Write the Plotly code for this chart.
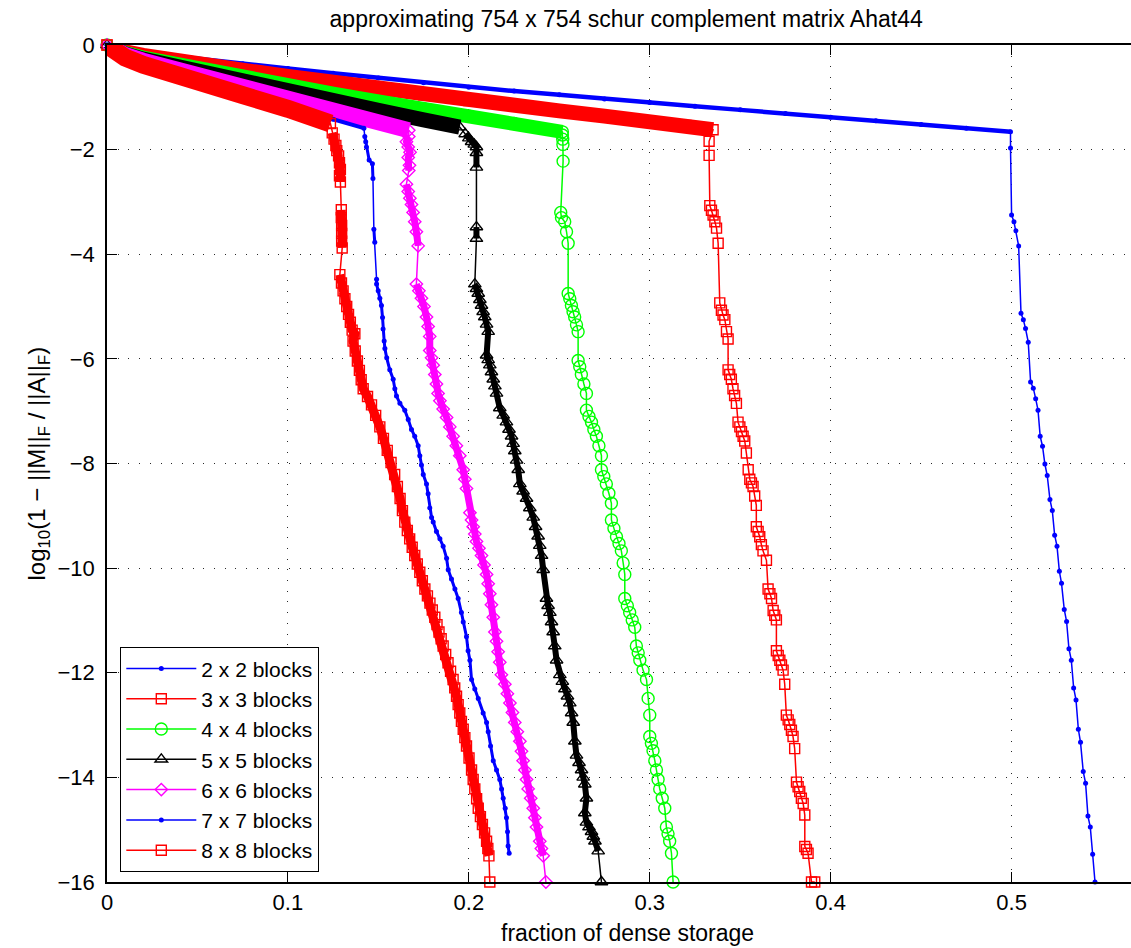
import plotly.graph_objects as go

TITLE = "approximating 754 x 754 schur complement matrix Ahat44"
X_LABEL = "fraction of dense storage"
Y_LABEL = "log<sub>10</sub>(1 − ||M||<sub>F</sub> / ||A||<sub>F</sub>)"
X_TICKS = [0, 0.1, 0.2, 0.3, 0.4, 0.5]
X_TICK_LABELS = ["0", "0.1", "0.2", "0.3", "0.4", "0.5"]
Y_TICKS = [0, -2, -4, -6, -8, -10, -12, -14, -16]
Y_TICK_LABELS = ["0", "−2", "−4", "−6", "−8", "−10", "−12", "−14", "−16"]
SERIES_NAMES = ["2 x 2 blocks", "3 x 3 blocks", "4 x 4 blocks", "5 x 5 blocks",
                "6 x 6 blocks", "7 x 7 blocks", "8 x 8 blocks"]
GAP = (None, None)  # marks a thin connecting jump between dense clusters

# ---- 2 x 2 blocks ----
S2_TOP = [(0, 0), (0.005, -0.06), (0.01, -0.1), (0.02, -0.15), (0.03, -0.19), (0.05, -0.27),
          (0.075, -0.36), (0.1, -0.45), (0.125, -0.54), (0.15, -0.63), (0.175, -0.72), (0.2, -0.81),
          (0.225, -0.88), (0.25, -0.95), (0.275, -1.03), (0.3, -1.1), (0.325, -1.17), (0.35, -1.24),
          (0.375, -1.31), (0.4, -1.38), (0.425, -1.45), (0.45, -1.52), (0.475, -1.59), (0.4994, -1.66)]
S2_DROP = [(0.4994, -1.97), (0.5, -3.25), (0.5013, -3.38), (0.5024, -3.55), (0.5039, -3.84),
           (0.5052, -5.13), (0.5065, -5.25), (0.5077, -5.42), (0.5092, -5.68), (0.5105, -6.44),
           (0.512, -6.56), (0.5133, -6.76), (0.5146, -6.98), (0.5158, -7.48), (0.5171, -7.67),
           (0.5184, -8.01), (0.5197, -8.23), (0.5212, -8.69), (0.5225, -8.9), (0.5238, -9.37),
           (0.5251, -9.58), (0.5264, -10.06), (0.5276, -10.29), (0.5291, -10.79), (0.5304, -11.02),
           (0.5317, -11.54), (0.533, -11.76), (0.5343, -12.29), (0.5356, -12.52), (0.5369, -13.08),
           (0.5381, -13.33), (0.5396, -13.89), (0.5409, -14.11), (0.5422, -14.74), (0.5435, -14.95),
           (0.5448, -15.47), (0.5461, -16.0)]

# ---- 3 x 3 blocks ----
S3_TOP = [(0, 0), (0.005, -0.08), (0.01, -0.13), (0.02, -0.2), (0.03, -0.26), (0.05, -0.36),
          (0.075, -0.48), (0.1, -0.6), (0.125, -0.72), (0.15, -0.84), (0.175, -0.95), (0.2, -1.06),
          (0.225, -1.16), (0.25, -1.26), (0.275, -1.36), (0.3, -1.45), (0.32, -1.54), (0.335, -1.62)]
S3_DROP = [(0.3328, -1.84), (0.3328, -2.11), (0.3332, -3.07), (0.3341, -3.16), (0.335, -3.25),
           (0.336, -3.38), (0.3369, -3.5), (0.3378, -3.79), (0.3387, -4.93), (0.3396, -5.07),
           (0.3405, -5.16), (0.3415, -5.25), (0.3424, -5.48), (0.3433, -5.62), (0.3433, -6.21),
           (0.3442, -6.3), (0.3451, -6.39), (0.346, -6.57), (0.3469, -6.7), (0.3479, -6.85),
           (0.3488, -7.21), (0.3498, -7.3), (0.3507, -7.39), (0.3516, -7.48), (0.3525, -7.57),
           (0.3534, -7.8), (0.3544, -8.12), (0.3553, -8.3), (0.3562, -8.37), (0.3571, -8.44),
           (0.358, -8.62), (0.3589, -8.8), (0.3589, -9.21), (0.3599, -9.3), (0.3608, -9.4),
           (0.3617, -9.55), (0.3626, -9.67), (0.3645, -9.85), (0.3654, -10.4), (0.3664, -10.49),
           (0.3673, -10.58), (0.3682, -10.81), (0.3691, -10.9), (0.37, -10.99), (0.37, -11.58),
           (0.371, -11.67), (0.3719, -11.76), (0.3728, -11.85), (0.3737, -11.95), (0.3746, -12.22),
           (0.3755, -12.81), (0.3765, -12.9), (0.3774, -12.99), (0.3783, -13.1), (0.3792, -13.22),
           (0.3801, -13.45), (0.3811, -14.09), (0.382, -14.18), (0.3829, -14.27), (0.3838, -14.4),
           (0.3848, -14.5), (0.3857, -14.72), (0.3857, -15.32), (0.3866, -15.38), (0.3875, -15.45),
           (0.3894, -16.0), (0.3912, -16.0)]

# ---- 4 x 4 blocks ----
S4_TOP = [(0, 0), (0.005, -0.09), (0.01, -0.15), (0.02, -0.24), (0.03, -0.31), (0.05, -0.44),
          (0.075, -0.61), (0.1, -0.78), (0.125, -0.93), (0.15, -1.08), (0.175, -1.22), (0.2, -1.36),
          (0.225, -1.5), (0.2517, -1.66)]
S4_DROP = [(0.2517, -1.72), (0.2519, -1.8), (0.252, -1.9), (0.2521, -2.22), (0.2508, -3.2),
           (0.2512, -3.3), (0.253, -3.38), (0.254, -3.57), (0.2549, -3.79), (0.2549, -4.75),
           (0.2558, -4.85), (0.2567, -4.98), (0.2576, -5.1), (0.2585, -5.2), (0.2595, -5.35),
           (0.2604, -5.48), (0.2604, -6.03), (0.2613, -6.15), (0.2622, -6.3), (0.2636, -6.48),
           (0.265, -6.66), (0.265, -6.98), (0.2664, -7.1), (0.2678, -7.21), (0.2691, -7.35),
           (0.2705, -7.48), (0.2719, -7.66), (0.2733, -7.85), (0.2733, -8.12), (0.2746, -8.25),
           (0.276, -8.39), (0.2774, -8.57), (0.2788, -8.76), (0.2788, -9.08), (0.2802, -9.24),
           (0.2816, -9.4), (0.283, -9.53), (0.2843, -9.67), (0.2853, -9.9), (0.2862, -10.12),
           (0.2862, -10.58), (0.2876, -10.72), (0.2889, -10.85), (0.2903, -10.99), (0.2917, -11.13),
           (0.2926, -11.49), (0.2936, -11.62), (0.2945, -11.76), (0.2963, -11.95), (0.2982, -12.13),
           (0.2991, -12.49), (0.3, -12.81), (0.3, -13.22), (0.3009, -13.35), (0.3018, -13.49),
           (0.3028, -13.68), (0.3037, -13.86), (0.3046, -14.04), (0.3055, -14.22), (0.3069, -14.4),
           (0.3083, -14.59), (0.3092, -14.95), (0.3101, -15.08), (0.311, -15.22), (0.312, -15.45),
           (0.3129, -16.0)]

# ---- 5 x 5 blocks ----
S5_TOP = [(0, 0), (0.005, -0.1), (0.01, -0.17), (0.02, -0.27), (0.03, -0.35), (0.05, -0.5),
          (0.075, -0.69), (0.1, -0.88), (0.125, -1.07), (0.15, -1.25), (0.175, -1.43), (0.195, -1.57)]
S5_DROP = [(0.198, -1.7), (0.2, -1.78), (0.2015, -1.85), (0.203, -1.9), (0.2042, -1.95),
           (0.2042, -2.06), (0.2042, -2.34), GAP, (0.2042, -3.48), (0.2042, -3.7), GAP,
           (0.2033, -4.57),
           (0.2042, -4.66), (0.2052, -4.75), (0.2061, -4.87), (0.207, -4.98), (0.2079, -5.1),
           (0.2088, -5.2), (0.2098, -5.34), (0.2107, -5.48), (0.2098, -5.93), (0.2107, -6.02),
           (0.2116, -6.12), (0.2125, -6.25), (0.2135, -6.39), (0.2144, -6.52), (0.2153, -6.66),
           (0.2171, -6.94), (0.219, -7.08), (0.2208, -7.21), (0.2222, -7.35), (0.2236, -7.48),
           (0.2245, -7.62), (0.2254, -7.76), (0.2264, -7.94), (0.2273, -8.12), (0.2282, -8.39),
           (0.23, -8.53), (0.2319, -8.67), (0.2337, -8.85), (0.2356, -9.03), (0.2369, -9.21),
           (0.2383, -9.39), (0.2392, -9.57), (0.2402, -9.76), (0.2411, -10.03), (0.2429, -10.58),
           (0.2438, -10.72), (0.2448, -10.85), (0.2457, -11.03), (0.2466, -11.22), (0.2475, -11.49),
           (0.2485, -11.76), (0.2503, -12.04), (0.2517, -12.17), (0.2531, -12.31), (0.2545, -12.45),
           (0.2558, -12.58), (0.2568, -12.77), (0.2577, -12.95), (0.2586, -13.31), (0.2595, -13.58),
           (0.2609, -13.72), (0.2623, -13.86), (0.2632, -14.0), (0.2641, -14.13), (0.265, -14.4),
           (0.2641, -14.68), (0.265, -14.86), (0.2664, -14.95), (0.2678, -15.04), (0.2688, -15.13),
           (0.2697, -15.22), (0.2715, -15.41), GAP, (0.2733, -16.0)]

# ---- 6 x 6 blocks ----
S6_TOP = [(0, 0), (0.005, -0.11), (0.01, -0.19), (0.02, -0.3), (0.03, -0.39), (0.05, -0.56),
          (0.075, -0.8), (0.1, -1.02), (0.125, -1.25), (0.15, -1.47), (0.1668, -1.63)]
S6_DROP = [(0.1668, -1.75), (0.1655, -1.85), (0.1665, -1.95), (0.1675, -2.05), (0.1665, -2.15),
           (0.1672, -2.3), (0.1668, -2.4), GAP, (0.1655, -2.66), (0.1665, -2.8), (0.1674, -2.93),
           (0.1683, -3.05), (0.1692, -3.2), (0.1701, -3.38), (0.171, -3.57), (0.172, -3.84), GAP,
           (0.171, -4.57), (0.1724, -4.7), (0.1738, -4.84), (0.1752, -5.0), (0.1766, -5.2),
           (0.1775, -5.38), (0.1784, -5.57), (0.1784, -5.84), (0.1794, -5.98), (0.1803, -6.12),
           (0.1812, -6.3), (0.1821, -6.48), (0.183, -6.66), (0.184, -6.8), (0.1858, -6.96),
           (0.1877, -7.12), (0.1895, -7.3), (0.1913, -7.48), (0.1931, -7.66), (0.195, -7.85),
           (0.1969, -8.12), (0.1978, -8.3), (0.1987, -8.48), (0.2006, -8.94), (0.2015, -9.08),
           (0.2024, -9.21), (0.2033, -9.35), (0.2042, -9.49), (0.2056, -9.62), (0.207, -9.76),
           (0.2084, -9.94), (0.2098, -10.12), (0.2107, -10.3), (0.2116, -10.49), (0.2125, -10.7),
           (0.2135, -10.94), (0.2144, -11.22), (0.2153, -11.4), (0.2162, -11.6), (0.2171, -11.8),
           (0.218, -12.04), (0.2199, -12.22), (0.2213, -12.4), (0.2227, -12.58), (0.2241, -12.76),
           (0.2254, -12.95), (0.2268, -13.13), (0.2282, -13.31), (0.2291, -13.5), (0.23, -13.68),
           (0.231, -13.86), (0.2319, -14.04), (0.2328, -14.22), (0.2342, -14.4), (0.2356, -14.59),
           (0.2365, -14.77), (0.2374, -14.95), (0.2392, -15.22), (0.2401, -15.36), (0.2411, -15.5),
           GAP, (0.2426, -16.0)]

# ---- 7 x 7 blocks ----
S7_TOP = [(0, 0), (0.005, -0.13), (0.01, -0.22), (0.02, -0.35), (0.03, -0.46), (0.05, -0.66),
          (0.075, -0.92), (0.1, -1.17), (0.125, -1.42), (0.142, -1.59)]
S7_DROP = [(0.1425, -1.75), (0.143, -1.85), (0.1434, -1.95), (0.1449, -2.2), (0.1467, -2.27),
           (0.147, -2.55), GAP, (0.1475, -3.52), (0.148, -3.77), GAP, (0.149, -4.48), (0.149, -4.57),
           (0.1499, -4.70), (0.1508, -4.84), (0.1517, -4.98), (0.1523, -5.21), (0.1526, -5.43),
           (0.1532, -5.66), (0.1536, -5.8), (0.1546, -5.98), (0.1563, -6.21), (0.1582, -6.39),
           (0.1591, -6.57), (0.16, -6.71), (0.1619, -6.85), (0.1646, -6.98), (0.1665, -7.16),
           (0.1683, -7.35), (0.1701, -7.48), (0.172, -7.66), (0.1729, -7.85), (0.1738, -8.03),
           (0.1748, -8.21), (0.1766, -8.39), (0.1775, -8.58), (0.1784, -8.85), (0.1794, -9.03),
           (0.1803, -9.12), (0.1821, -9.30), (0.184, -9.44), (0.1858, -9.58), (0.1877, -9.81),
           (0.1886, -10.03), (0.1904, -10.21), (0.1923, -10.40), (0.1941, -10.58), (0.1959, -10.85),
           (0.1969, -11.03), (0.1987, -11.31), (0.1996, -11.58), (0.2006, -11.76), (0.2015, -12.13),
           (0.2033, -12.31), (0.2052, -12.49), (0.2079, -12.77), (0.2098, -12.95), (0.2107, -13.13),
           (0.212, -13.40), (0.2135, -13.68), (0.2153, -13.86), (0.2171, -14.04), (0.2181, -14.22),
           (0.219, -14.40), (0.2201, -14.59), (0.2208, -14.77), (0.2214, -15.04), (0.2217, -15.31),
           (0.2223, -15.45)]

# ---- 8 x 8 blocks ----
S8_TOP = [(0, 0), (0.005, -0.14), (0.01, -0.24), (0.02, -0.38), (0.03, -0.5), (0.05, -0.71),
          (0.075, -0.96), (0.1, -1.22), (0.11, -1.33), (0.1235, -1.5)]
S8_DROP = [(0.1245, -1.68), (0.1255, -1.8), (0.1265, -1.92), (0.127, -2.02), (0.128, -2.12),
           (0.1285, -2.25), (0.129, -2.38), (0.1285, -2.5), (0.129, -2.62), GAP, (0.1295, -3.15),
           (0.1295, -3.3), (0.1297, -3.45), (0.1297, -3.6), (0.1297, -3.75), (0.13, -3.88), GAP,
           (0.1287, -4.39), (0.1296, -4.55), (0.1305, -4.7), (0.1315, -4.85), (0.1325, -5.0),
           (0.1335, -5.15), (0.1345, -5.3), (0.1355, -5.45), (0.137, -5.52), (0.136, -5.66),
           (0.1372, -5.85), (0.1384, -6.04), (0.1395, -6.22), (0.1405, -6.4), (0.1416, -6.57),
           (0.144, -6.72), (0.1462, -6.88), (0.1485, -7.08), (0.1508, -7.3), (0.1528, -7.52),
           (0.1549, -7.75), (0.157, -7.98), (0.159, -8.21), (0.1605, -8.44), (0.162, -8.67),
           (0.1633, -8.9), (0.1646, -9.12), (0.166, -9.28), (0.1673, -9.44), (0.1687, -9.6),
           (0.1701, -9.76), (0.1715, -9.92), (0.1729, -10.08), (0.1743, -10.24), (0.1757, -10.4),
           (0.1771, -10.53), (0.1785, -10.67), (0.1798, -10.8), (0.1812, -10.94), (0.1824, -11.08),
           (0.1835, -11.22), (0.1847, -11.35), (0.1858, -11.49), (0.1872, -11.65), (0.1885, -11.81),
           (0.1899, -11.97), (0.1913, -12.13), (0.1922, -12.29), (0.1932, -12.45), (0.1941, -12.61),
           (0.195, -12.77), (0.1959, -12.93), (0.1969, -13.08), (0.1978, -13.24), (0.1987, -13.4),
           (0.2001, -13.63), (0.2015, -13.86), (0.2024, -14.04), (0.2033, -14.22), (0.2043, -14.41),
           (0.2052, -14.59), (0.2064, -14.75), (0.2075, -14.9), (0.2087, -15.06), (0.2098, -15.22),
           (0.2105, -15.36), (0.2111, -15.5), GAP, (0.2116, -16.0)]

SERIES = [(S2_TOP, S2_DROP), (S3_TOP, S3_DROP), (S4_TOP, S4_DROP), (S5_TOP, S5_DROP),
          (S6_TOP, S6_DROP), (S7_TOP, S7_DROP), (S8_TOP, S8_DROP)]

# ---- styles (kept apart from the data) ----
STYLES = [
    dict(color="#0000FF", symbol="circle", size=5, fill=True, band=4.5, dband=0),
    dict(color="#FF0000", symbol="square-open", size=10, fill=False, band=15, dband=0),
    dict(color="#00FF00", symbol="circle-open", size=12, fill=False, band=14, dband=0),
    dict(color="#000000", symbol="triangle-up-open", size=11, fill=False, band=15, dband=6),
    dict(color="#FF00FF", symbol="diamond-open", size=9.5, fill=False, band=16, dband=7),
    dict(color="#0000FF", symbol="circle", size=5, fill=True, band=4, dband=3),
    dict(color="#FF0000", symbol="square-open", size=10, fill=False, band=18, dband=9),
]

FONT = "Liberation Sans, Arial, Helvetica, sans-serif"

fig = go.Figure()
for name, (top, drop), st in zip(SERIES_NAMES, SERIES, STYLES):
    tx = [p[0] for p in top]
    ty = [p[1] for p in top]
    dx = [p[0] for p in drop]
    dy = [p[1] for p in drop]
    # dense marker band along the upper branch
    fig.add_trace(go.Scatter(x=tx, y=ty, mode="lines", showlegend=False, hoverinfo="skip",
                             line=dict(color=st["color"], width=st["band"]), cliponaxis=False))
    # dense marker clusters along the descending branch
    if st["dband"]:
        fig.add_trace(go.Scatter(x=dx, y=dy, mode="lines", showlegend=False, hoverinfo="skip",
                                 connectgaps=False,
                                 line=dict(color=st["color"], width=st["dband"]),
                                 cliponaxis=False))
    fig.add_trace(go.Scatter(
        x=tx + dx, y=ty + dy, mode="lines+markers", name=name, cliponaxis=False,
        connectgaps=True,
        line=dict(color=st["color"], width=1.5),
        marker=dict(symbol=st["symbol"], size=st["size"], color=st["color"],
                    line=dict(color=st["color"], width=1.4 if not st["fill"] else 0)),
    ))

axis_common = dict(
    ticks="inside", ticklen=10, tickwidth=1.3, tickcolor="black",
    showline=True, linecolor="black", linewidth=1.5,
    showgrid=True, gridcolor="rgb(40,40,40)", gridwidth=1, griddash="1px,9.7px",
    zeroline=False, tickfont=dict(family=FONT, size=22, color="black"),
)

fig.update_layout(
    width=1131, height=948,
    margin=dict(l=107, r=0, t=45, b=66),
    paper_bgcolor="white", plot_bgcolor="white",
    font=dict(family=FONT, size=22, color="black"),
    title=dict(text=TITLE, x=0.507, xref="paper", xanchor="center",
               y=1 - 19 / 948, yref="container", yanchor="middle",
               font=dict(family=FONT, size=23, color="black")),
    xaxis=dict(range=[0, 0.566], tickvals=X_TICKS, ticktext=X_TICK_LABELS, mirror="ticks",
               **axis_common),
    yaxis=dict(range=[-16, 0], tickvals=Y_TICKS, ticktext=Y_TICK_LABELS, mirror=False,
               ticklabelstandoff=6, **axis_common),
    legend=dict(x=0.0127, y=0.012, xanchor="left", yanchor="bottom",
                bgcolor="white", bordercolor="black", borderwidth=1.3, itemwidth=70,
                font=dict(family=FONT, size=21, color="black"), tracegroupgap=0),
    annotations=[
        dict(text=X_LABEL, x=0.2875, xref="x", y=(882 - 933) / 837, yref="paper",
             xanchor="center", yanchor="middle", showarrow=False,
             font=dict(family=FONT, size=23, color="black")),
        dict(text=Y_LABEL, x=(38 - 107) / 1024, xref="paper", y=0.5, yref="paper",
             xanchor="center", yanchor="middle", textangle=-90, showarrow=False,
             font=dict(family=FONT, size=24, color="black")),
    ],
)

fig.write_html("out.html")
